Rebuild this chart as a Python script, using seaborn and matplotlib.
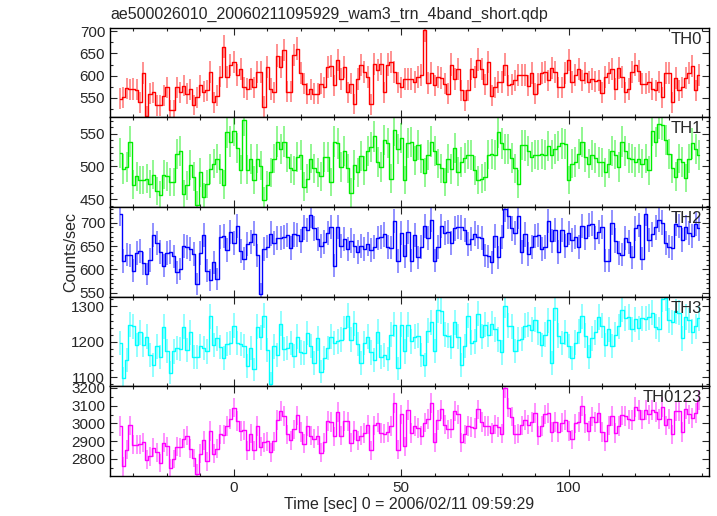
import numpy as np
import pandas as pd
import matplotlib
matplotlib.use("Agg")
import matplotlib.pyplot as plt
import seaborn as sns
from matplotlib.ticker import MultipleLocator

# 1 s bins, bin centres in seconds from 2006/02/11 09:59:29
time_sec = np.arange(-34, 140)

th0_rate = [548, 551, 571, 569, 570, 568, 540, 606, 510, 559,
            563, 533, 533, 555, 574, 523, 523, 574, 563, 577,
            559, 569, 534, 551, 578, 564, 567, 608, 540, 555,
            598, 665, 597, 623, 630, 601, 616, 574, 570, 593,
            574, 608, 608, 530, 620, 570, 563, 645, 620, 658,
            564, 564, 646, 661, 606, 582, 559, 569, 559, 559,
            582, 574, 620, 621, 578, 635, 593, 619, 563, 582,
            536, 592, 623, 608, 597, 535, 627, 612, 626, 563,
            625, 630, 608, 584, 574, 593, 593, 593, 586, 597,
            602, 703, 583, 606, 578, 597, 595, 582, 559, 625,
            593, 616, 567, 544, 567, 614, 597, 636, 614, 580,
            631, 555, 574, 586, 586, 625, 578, 580, 589, 601,
            601, 602, 577, 606, 559, 582, 606, 608, 589, 618,
            608, 574, 574, 606, 635, 586, 601, 616, 589, 606,
            586, 593, 587, 589, 561, 597, 606, 614, 570, 617,
            597, 563, 570, 608, 625, 610, 582, 582, 586, 570,
            567, 586, 551, 606, 606, 540, 595, 567, 574, 595,
            605, 622, 567, 602]

th1_rate = [521, 496, 499, 538, 472, 485, 479, 479, 481, 473,
            487, 462, 456, 487, 485, 476, 476, 519, 523, 458,
            471, 502, 484, 441, 491, 453, 473, 496, 504, 512,
            496, 472, 552, 538, 554, 528, 495, 571, 495, 511,
            479, 512, 501, 448, 471, 491, 512, 538, 527, 538,
            514, 497, 494, 514, 517, 469, 481, 512, 497, 491,
            485, 514, 514, 476, 538, 535, 499, 524, 497, 460,
            502, 491, 516, 494, 524, 530, 546, 507, 499, 540,
            536, 481, 555, 527, 543, 479, 536, 537, 509, 533,
            512, 490, 517, 538, 523, 504, 497, 476, 512, 496,
            528, 492, 507, 513, 518, 517, 494, 479, 481, 484,
            518, 519, 517, 552, 535, 527, 526, 513, 497, 473,
            533, 532, 524, 514, 518, 517, 519, 517, 531, 518,
            526, 531, 535, 534, 479, 504, 507, 519, 537, 514,
            504, 517, 513, 507, 506, 491, 504, 523, 518, 499,
            538, 524, 513, 512, 507, 512, 504, 512, 494, 554,
            537, 565, 564, 540, 519, 497, 484, 512, 507, 482,
            512, 535, 526, 517]

th2_rate = [719, 618, 632, 630, 597, 635, 639, 613, 590, 620,
            673, 656, 637, 608, 635, 637, 628, 594, 601, 651,
            648, 644, 633, 568, 635, 673, 597, 577, 615, 579,
            669, 671, 641, 680, 656, 693, 639, 623, 654, 659,
            677, 630, 548, 644, 649, 677, 656, 668, 667, 669,
            673, 646, 675, 673, 661, 690, 684, 716, 688, 666,
            651, 659, 678, 691, 608, 691, 651, 666, 644, 662,
            651, 637, 651, 644, 655, 641, 648, 668, 669, 675,
            648, 647, 704, 618, 678, 628, 680, 619, 673, 626,
            648, 693, 668, 707, 619, 648, 693, 678, 680, 656,
            688, 691, 690, 685, 654, 666, 677, 669, 668, 630,
            628, 615, 671, 626, 669, 729, 714, 688, 678, 714,
            637, 675, 633, 648, 671, 673, 644, 648, 704, 661,
            684, 637, 684, 651, 678, 664, 669, 648, 693, 668,
            695, 698, 668, 680, 691, 619, 619, 700, 662, 635,
            632, 668, 659, 626, 688, 695, 623, 719, 664, 675,
            690, 706, 700, 656, 649, 646, 698, 693, 664, 690,
            678, 671, 697, 688]

th3_rate = [1196, 1097, 1149, 1248, 1244, 1191, 1227, 1191, 1215, 1163,
            1135, 1187, 1156, 1242, 1175, 1113, 1173, 1182, 1180, 1242,
            1177, 1227, 1156, 1158, 1189, 1182, 1173, 1272, 1191, 1210,
            1185, 1154, 1194, 1196, 1246, 1196, 1194, 1189, 1132, 1182,
            1122, 1242, 1213, 1274, 1177, 1082, 1187, 1163, 1251, 1179,
            1182, 1196, 1160, 1215, 1170, 1168, 1225, 1189, 1139, 1210,
            1116, 1155, 1182, 1215, 1196, 1201, 1206, 1239, 1274, 1206,
            1253, 1194, 1139, 1196, 1215, 1170, 1149, 1229, 1158, 1163,
            1151, 1220, 1248, 1125, 1248, 1173, 1248, 1201, 1215, 1217,
            1163, 1135, 1232, 1255, 1175, 1289, 1287, 1220, 1217, 1185,
            1255, 1215, 1135, 1189, 1274, 1198, 1201, 1280, 1215, 1248,
            1220, 1251, 1236, 1206, 1170, 1302, 1246, 1244, 1175, 1206,
            1208, 1246, 1248, 1234, 1263, 1227, 1191, 1220, 1261, 1141,
            1296, 1217, 1196, 1227, 1189, 1154, 1198, 1229, 1272, 1217,
            1158, 1210, 1227, 1270, 1246, 1191, 1236, 1189, 1220, 1244,
            1291, 1267, 1270, 1236, 1264, 1239, 1267, 1265, 1270, 1282,
            1242, 1236, 1321, 1324, 1261, 1255, 1286, 1282, 1210, 1270,
            1261, 1229, 1244, 1267]

th0123_rate = [2985, 2758, 2853, 2989, 2881, 2879, 2883, 2894, 2796, 2815,
               2862, 2838, 2777, 2891, 2872, 2749, 2800, 2868, 2866, 2913,
               2932, 2857, 2806, 2717, 2830, 2906, 2787, 2957, 2830, 2857,
               2938, 2936, 2985, 3026, 3089, 3013, 2957, 2962, 2849, 2943,
               2849, 2985, 2868, 2894, 2900, 2838, 2900, 3019, 3070, 3042,
               2938, 2906, 2966, 3045, 2951, 2887, 2985, 2932, 2913, 2932,
               2834, 2894, 3013, 3008, 2928, 3064, 2932, 3013, 3011, 2891,
               2962, 2906, 2932, 2947, 2994, 2849, 2989, 3004, 2947, 2943,
               2951, 2985, 3117, 2853, 3051, 2872, 3075, 2947, 2985, 2975,
               2932, 3004, 3026, 3113, 2894, 3019, 3079, 2994, 2966, 2970,
               3070, 3051, 2894, 2938, 2985, 2981, 2975, 3079, 3008, 2985,
               2985, 2947, 2994, 2981, 2943, 3202, 3089, 3038, 2938, 2943,
               2989, 3019, 2994, 3008, 3057, 2932, 2985, 3051, 3057, 2951,
               3008, 2951, 3004, 3019, 2957, 2910, 3000, 3008, 3098, 3000,
               2957, 3038, 3008, 3057, 2951, 2900, 2989, 3042, 2947, 2985,
               3045, 3042, 3023, 3019, 3094, 3075, 3023, 3075, 3051, 3075,
               3064, 3026, 3094, 2989, 3026, 2938, 3070, 3070, 2951, 3079,
               3051, 3032, 3057, 3132]

bands = ["TH0", "TH1", "TH2", "TH3", "TH0123"]
rates = [th0_rate, th1_rate, th2_rate, th3_rate, th0123_rate]
colors = ["#ff0000", "#00ee00", "#0000ff", "#00ffff", "#ff00ff"]
y_limits = [(506, 708), (438, 575), (542, 734), (1075, 1328), (2706, 3210)]
y_major = [50, 50, 50, 100, 100]
y_minor = [25, 10, 10, 20, 50]

sns.set_style("ticks")
plt.rcParams["font.family"] = ["Liberation Sans", "DejaVu Sans"]

fig, axes = plt.subplots(5, 1, sharex=True, figsize=(7.17, 5.16), dpi=100)
fig.subplots_adjust(left=0.1534, right=0.989, top=0.9463, bottom=0.0781, hspace=0)

for ax, band, rate, color, ylim, maj, mnr in zip(axes, bands, rates, colors,
                                                   y_limits, y_major, y_minor):
    df = pd.DataFrame({"time": time_sec, "rate": rate})
    # poisson errors for 1 s bins
    err = np.sqrt(df["rate"])
    ax.errorbar(df["time"], df["rate"], yerr=err, fmt="none", ecolor=color,
                elinewidth=1.2, alpha=0.5)
    sns.lineplot(data=df, x="time", y="rate", ax=ax, color=color, lw=1.0,
                 drawstyle="steps-mid", estimator=None)
    ax.set_ylim(*ylim)
    ax.set_xlim(-37, 142)
    ax.yaxis.set_major_locator(MultipleLocator(maj))
    ax.yaxis.set_minor_locator(MultipleLocator(mnr))
    ax.xaxis.set_major_locator(MultipleLocator(50))
    ax.xaxis.set_minor_locator(MultipleLocator(10))
    ax.tick_params(which="both", direction="in", top=True, right=True,
                   labelsize=11, width=0.8)
    ax.tick_params(which="major", length=5)
    ax.tick_params(which="minor", length=2.5)
    for sp in ax.spines.values():
        sp.set_linewidth(1.0)
        sp.set_color("black")
    ax.set_ylabel("")
    ax.set_xlabel("")
    ax.text(0.988, 0.955, band, transform=ax.transAxes, ha="right", va="top",
            fontsize=12)

axes[-1].set_xlabel("Time [sec] 0 = 2006/02/11 09:59:29", fontsize=11.5, labelpad=2)
fig.text(0.098, 0.512, "Counts/sec", rotation=90, ha="center", va="center",
         fontsize=11.5)
fig.text(0.1534, 0.972, "ae500026010_20060211095929_wam3_trn_4band_short.qdp",
         ha="left", va="center", fontsize=11.5)

fig.savefig("out.png", dpi=100)
